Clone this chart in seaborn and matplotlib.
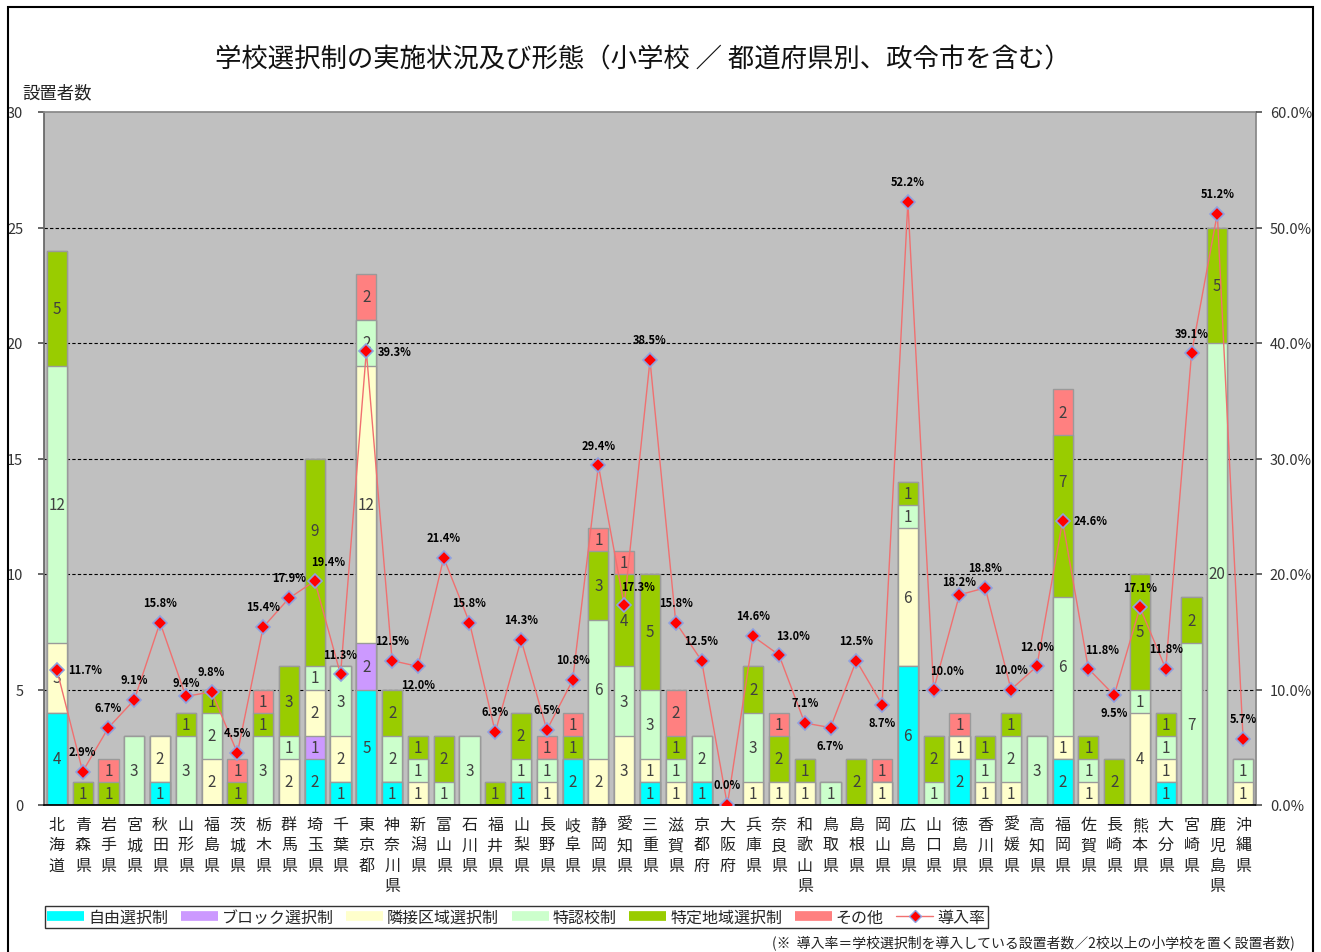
import numpy as np
import pandas as pd
import matplotlib
matplotlib.use("Agg")
import matplotlib.pyplot as plt
import seaborn as sns
from matplotlib.lines import Line2D
from matplotlib.patches import Rectangle

sns.set_theme(style="white")
plt.rcParams['font.family'] = ['Noto Sans CJK JP', 'DejaVu Sans']

prefectures = ["北海道", "青森県", "岩手県", "宮城県", "秋田県", "山形県", "福島県", "茨城県",
               "栃木県", "群馬県", "埼玉県", "千葉県", "東京都", "神奈川県", "新潟県", "富山県",
               "石川県", "福井県", "山梨県", "長野県", "岐阜県", "静岡県", "愛知県", "三重県",
               "滋賀県", "京都府", "大阪府", "兵庫県", "奈良県", "和歌山県", "鳥取県", "島根県",
               "岡山県", "広島県", "山口県", "徳島県", "香川県", "愛媛県", "高知県", "福岡県",
               "佐賀県", "長崎県", "熊本県", "大分県", "宮崎県", "鹿児島県", "沖縄県"]

free_choice = [4, 0, 0, 0, 1, 0, 0, 0, 0, 0, 2, 1, 5, 1, 0, 0, 0, 0, 1, 0, 2, 0, 0, 1,
               0, 1, 0, 0, 0, 0, 0, 0, 0, 6, 0, 2, 0, 0, 0, 2, 0, 0, 0, 1, 0, 0, 0]
block_choice = [0, 0, 0, 0, 0, 0, 0, 0, 0, 0, 1, 0, 2, 0, 0, 0, 0, 0, 0, 0, 0, 0, 0, 0,
                0, 0, 0, 0, 0, 0, 0, 0, 0, 0, 0, 0, 0, 0, 0, 0, 0, 0, 0, 0, 0, 0, 0]
adjacent_choice = [3, 0, 0, 0, 2, 0, 2, 0, 0, 2, 2, 2, 12, 0, 1, 0, 0, 0, 0, 1, 0, 2, 3, 1,
                   1, 0, 0, 1, 1, 1, 0, 0, 1, 6, 0, 1, 1, 1, 0, 1, 1, 0, 4, 1, 0, 0, 1]
special_permit = [12, 0, 0, 3, 0, 3, 2, 0, 3, 1, 1, 3, 2, 2, 1, 1, 3, 0, 1, 1, 0, 6, 3, 3,
                  1, 2, 0, 3, 0, 0, 1, 0, 0, 1, 1, 0, 1, 2, 3, 6, 1, 0, 1, 1, 7, 20, 1]
specific_area = [5, 1, 1, 0, 0, 1, 1, 1, 1, 3, 9, 0, 0, 2, 1, 2, 0, 1, 2, 0, 1, 3, 4, 5,
                 1, 0, 0, 2, 2, 1, 0, 2, 0, 1, 2, 0, 1, 1, 0, 7, 1, 2, 5, 1, 2, 5, 0]
other = [0, 0, 1, 0, 0, 0, 0, 1, 1, 0, 0, 0, 2, 0, 0, 0, 0, 0, 0, 1, 1, 1, 1, 0,
         2, 0, 0, 0, 1, 0, 0, 0, 1, 0, 0, 1, 0, 0, 0, 2, 0, 0, 0, 0, 0, 0, 0]
adoption_rate = [11.7, 2.9, 6.7, 9.1, 15.8, 9.4, 9.8, 4.5, 15.4, 17.9, 19.4, 11.3, 39.3, 12.5,
                 12.0, 21.4, 15.8, 6.3, 14.3, 6.5, 10.8, 29.4, 17.3, 38.5, 15.8, 12.5, 0.0,
                 14.6, 13.0, 7.1, 6.7, 12.5, 8.7, 52.2, 10.0, 18.2, 18.8, 10.0, 12.0, 24.6,
                 11.8, 9.5, 17.1, 11.8, 39.1, 51.2, 5.7]
# rate-label placement: a=above, s=just above, A=above-right, r=right, b=below
label_pos = ["r", "a", "a", "a", "a", "s", "a", "a", "a", "a",
             "A", "a", "r", "a", "b", "a", "a", "a", "a", "a",
             "a", "a", "A", "a", "a", "a", "a", "a", "A", "a",
             "b", "a", "b", "a", "A", "s", "a", "a", "a", "r",
             "A", "b", "a", "a", "a", "a", "a"]
# segment labels that the original chart lifted off-centre: (prefecture, series) -> lift
label_lift = {(10, 4): 1.4, (39, 4): 1.5}

series_names = ["自由選択制", "ブロック選択制", "隣接区域選択制", "特認校制", "特定地域選択制", "その他"]
series_values = [free_choice, block_choice, adjacent_choice, special_permit, specific_area, other]
colors = ["#00FFFF", "#CC99FF", "#FFFFCC", "#CCFFCC", "#99CC00", "#FF8080"]

W, H = 1321, 953
fig = plt.figure(figsize=(W / 100, H / 100), dpi=100)
fig.patch.set_facecolor("white")
ax = fig.add_axes([44 / W, 1 - 806 / H, (1256 - 44) / W, (806 - 113) / H])
ax.set_facecolor("#C0C0C0")

df = pd.DataFrame({name: vals for name, vals in zip(series_names, series_values)})
df["pref"] = prefectures
cum = np.cumsum(np.array(series_values), axis=0)

for k in range(len(series_names) - 1, -1, -1):
    sns.barplot(x=df["pref"], y=cum[k], order=prefectures, color=colors[k], saturation=1,
                width=0.78, edgecolor="#9a9a9a", linewidth=1.0, ax=ax, zorder=2)

# segment value labels
for i in range(len(prefectures)):
    bottom = 0
    for k in range(len(series_names)):
        v = series_values[k][i]
        if v > 0:
            ax.text(i, bottom + v / 2 + label_lift.get((i, k), 0), str(v), ha="center",
                    va="center", fontsize=11, color="#404040", zorder=5)
        bottom += v

ax.set_ylim(0, 30)
ax.set_xlim(-0.5, len(prefectures) - 0.5)
ax.set_yticks(range(0, 31, 5))
ax.set_yticklabels([str(t) for t in range(0, 31, 5)], fontsize=10.5, color="#333333")
for y in range(5, 30, 5):
    ax.axhline(y, color="black", lw=0.8, ls=(0, (3, 2)), zorder=1)
ax.set_xticks(range(len(prefectures)))
ax.set_xticklabels(["\n".join(p) for p in prefectures], fontsize=11.5, linespacing=1.25,
                   va="top", color="#222222")
ax.set_xticks(np.arange(-0.5, len(prefectures), 1), minor=True)
ax.tick_params(axis="x", which="major", length=0, pad=8)
ax.tick_params(axis="x", which="minor", length=4, color="#555555", direction="in")
ax.tick_params(axis="y", which="major", length=4, color="#555555", pad=11, left=True)
ax.set_xlabel("")
ax.set_ylabel("")
for s in ["top", "right"]:
    ax.spines[s].set_color("#888888")
ax.spines["left"].set_color("#666666")
ax.spines["bottom"].set_color("black")

ax2 = ax.twinx()
ax2.set_ylim(0, 60)
xs = np.arange(len(prefectures))
sns.lineplot(x=xs, y=adoption_rate, ax=ax2, color="#F07070", lw=1.0, sort=False,
             marker="D", markersize=7, markerfacecolor="red", markeredgecolor="#8FA0E0",
             markeredgewidth=1.2, zorder=6)
ax2.set_xlim(-0.5, len(prefectures) - 0.5)
ax2.set_yticks(range(0, 61, 10))
ax2.set_yticklabels([f"{t:.1f}%" for t in range(0, 61, 10)], fontsize=10.5, color="#333333")
ax2.tick_params(axis="y", length=4, color="#555555", pad=6, right=True)
ax2.set_ylabel("")
for s in ax2.spines.values():
    s.set_visible(False)

offsets = {"a": ((0, 10), "center", "bottom"), "s": ((0, 5), "center", "bottom"),
           "A": ((10, 9), "center", "bottom"),
           "r": ((8, 0), "left", "center"), "b": ((0, -8), "center", "top")}
for i, r in enumerate(adoption_rate):
    (dx, dy), ha, va = offsets[label_pos[i]]
    ax2.annotate(f"{r:.1f}%", (i, r), xytext=(dx, dy), textcoords="offset points",
                 ha=ha, va=va, fontsize=8, fontweight="bold", color="black", zorder=7)

fig.text(643 / W, 1 - 60 / H, "学校選択制の実施状況及び形態（小学校 ／ 都道府県別、政令市を含む）",
         ha="center", va="center", fontsize=19, color="#111111")
fig.text(22 / W, 1 - 93 / H, "設置者数", ha="left", va="center", fontsize=12.5, color="#222222")
fig.text(1295 / W, 1 - 943 / H,
         "(※  導入率＝学校選択制を導入している設置者数／2校以上の小学校を置く設置者数)",
         ha="right", va="center", fontsize=10, color="#222222")

handles = [Line2D([], [], color=c, lw=7, solid_capstyle="butt") for c in colors]
handles.append(Line2D([], [], color="#F07070", lw=1, marker="D", markersize=6,
                      markerfacecolor="red", markeredgecolor="#8FA0E0"))
labels = series_names + ["導入率"]
leg = fig.legend(handles, labels, loc="lower left", ncol=7,
                 bbox_to_anchor=(45 / W, 1 - 929 / H), fontsize=11.5, frameon=True,
                 fancybox=False, edgecolor="black", handlelength=2.3, handletextpad=0.25,
                 columnspacing=0.8, borderpad=0.15, borderaxespad=0)
leg.get_frame().set_linewidth(1.0)

fig.add_artist(Rectangle((8 / W, -0.01), (1313 - 8) / W, (953 - 8) / H + 0.01,
                         transform=fig.transFigure, fill=False, lw=1.5, ec="black"))

fig.savefig("out.png", dpi=100)
